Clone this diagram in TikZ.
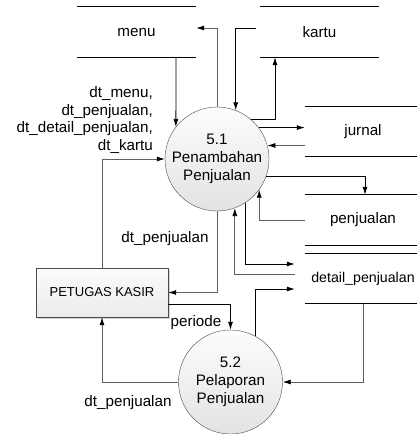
\documentclass[tikz,border=0pt]{standalone}
\usepackage{fontspec}
\setmainfont{Liberation Sans}
\usetikzlibrary{arrows.meta,shadows}

\begin{document}
\begin{tikzpicture}[x=1pt, y=-1pt,
  font=\fontsize{15.2}{17.8}\selectfont,
  proc/.style={circle, draw=gray!60!black, top color=gray!2, bottom color=gray!22, minimum size=104pt, inner sep=0pt, align=center},
  entity/.style={rectangle, draw=gray!60!black, top color=gray!3, bottom color=gray!16, minimum width=132pt, minimum height=49pt, font=\fontsize{13}{15}\selectfont, drop shadow={shadow xshift=1.5pt, shadow yshift=-1.5pt, fill=gray!35, opacity=1}},
  store/.style={minimum width=119pt, minimum height=50pt, inner sep=0pt},
  storeline/.style={draw=black, line width=0.8pt},
  flow/.style={-{Latex[length=8pt,width=5pt]}, line width=0.8pt, black},
  flowg/.style={-{Latex[length=8pt,width=5pt,black]}, line width=0.8pt, draw=gray!75!black},
  lbl/.style={inner sep=0pt}
]
  \useasboundingbox (0,0) rectangle (417,434);

  % Data stores
  \node[store] (menu) at (136.5,32) {menu};
  \node[store] (kartu) at (319.5,32) {kartu};
  \node[store, minimum width=116pt] (jurnal) at (363,131.5) {jurnal};
  \node[store, minimum width=116pt] (penjualan) at (363,220) {penjualan};
  \node[store, minimum width=116pt, font=\fontsize{14.2}{17}\selectfont] (detail) at (363,278.5) {detail\_penjualan};
  \foreach \s in {menu,kartu,jurnal,penjualan,detail}
    \draw[storeline] (\s.north west) -- (\s.north east) (\s.south west) -- (\s.south east);

  % Processes
  \node[proc] (p51) at (217,159) {5.1\\Penambahan\\Penjualan};
  \node[proc] (p52) at (230.5,382) {5.2\\Pelaporan\\Penjualan};

  % External entity
  \node[entity] (kasir) at (102,292.5) {PETUGAS KASIR};

  % Flows of 5.1
  \draw[flowg] (p51.north) |- ([yshift=4pt]menu.east);
  \draw[flow] ([xshift=-4pt,yshift=4pt]kartu.west) -| (p51.69);
  \draw[flow] (p51.50) -| ([xshift=-44.5pt]kartu.south);
  \draw[flow] ([xshift=39.5pt]menu.south) -- (p51.142);
  \draw[flow] (p51.37) -- (p51.37 -| jurnal.west);
  \draw[flowg] (jurnal.west |- p51.15) -- (p51.15);
  \draw[flow] (p51.-19) -| ([xshift=2pt]penjualan.north);
  \draw[flowg] (penjualan.west) -| (p51.-36);
  \draw[flow] (p51.-57) |- ([xshift=-10pt,yshift=14.5pt]detail.west);
  \draw[flowg] ([xshift=-10pt,yshift=4.5pt]detail.west) -| (p51.-70);
  \draw[flowg] (p51.south) |- (kasir.east);
  \draw[flowg] (kasir.north) |- (p51.west);

  % Flows of 5.2
  \draw[flow] ([yshift=-11.5pt]kasir.east) -| (p52.north);
  \draw[flow] (p52.62) |- ([xshift=-10pt,yshift=-10.5pt]detail.west);
  \draw[flowg] (detail.south) |- (p52.east);
  \draw[flowg] (p52.west) -| (kasir.south);

  % Labels
  \node[lbl, anchor=east, align=right] (lin) at (153,120) {dt\_menu,\\dt\_penjualan,\\dt\_detail\_penjualan,\\dt\_kartu};
  \node[lbl] (lout) at (165,239) {dt\_penjualan};
  \node[lbl] (lper) at (196,323) {periode};
  \node[lbl] (lrep) at (128,403) {dt\_penjualan};
\end{tikzpicture}
\end{document}
